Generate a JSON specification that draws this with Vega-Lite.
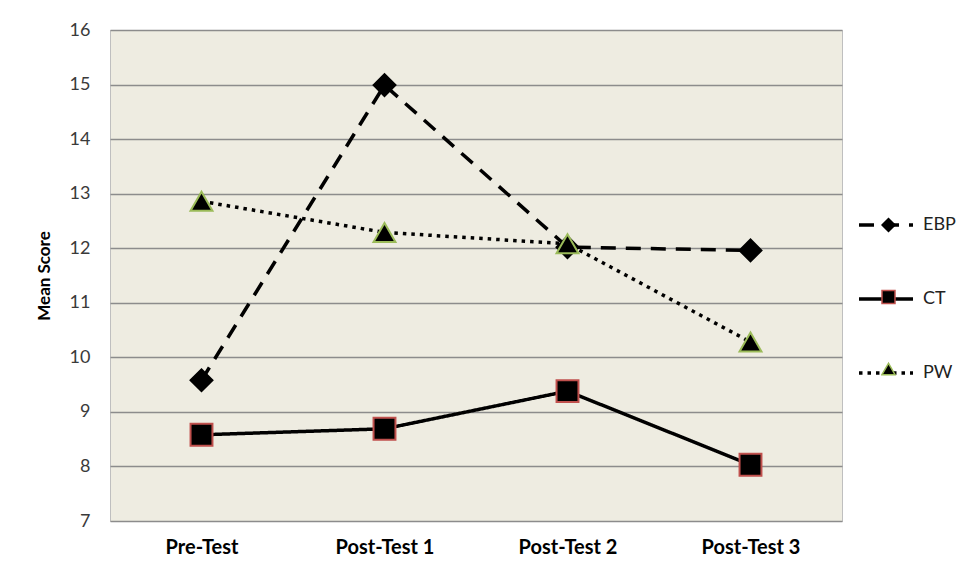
{
  "$schema": "https://vega.github.io/schema/vega-lite/v6.json",
  "width": 732,
  "height": 491,
  "autosize": {"type": "none"},
  "padding": {"left": 110, "top": 30, "right": 137, "bottom": 46},
  "background": "white",
  "config": {
    "font": "Lato",
    "view": {"fill": "#EEECE1", "stroke": "#BFBFBF", "strokeWidth": 1}
  },
  "data": {
    "values": [
      {"test": "Pre-Test", "series": "EBP", "score": 9.58},
      {"test": "Post-Test 1", "series": "EBP", "score": 14.99},
      {"test": "Post-Test 2", "series": "EBP", "score": 12.02},
      {"test": "Post-Test 3", "series": "EBP", "score": 11.96},
      {"test": "Pre-Test", "series": "CT", "score": 8.58},
      {"test": "Post-Test 1", "series": "CT", "score": 8.69},
      {"test": "Post-Test 2", "series": "CT", "score": 9.38},
      {"test": "Post-Test 3", "series": "CT", "score": 8.03},
      {"test": "Pre-Test", "series": "PW", "score": 12.86},
      {"test": "Post-Test 1", "series": "PW", "score": 12.29},
      {"test": "Post-Test 2", "series": "PW", "score": 12.08},
      {"test": "Post-Test 3", "series": "PW", "score": 10.28}
    ]
  },
  "encoding": {
    "x": {
      "field": "test",
      "type": "nominal",
      "sort": ["Pre-Test", "Post-Test 1", "Post-Test 2", "Post-Test 3"],
      "scale": {"type": "point", "padding": 0.5},
      "axis": {
        "title": null,
        "labelAngle": 0,
        "domain": false,
        "ticks": false,
        "labelPadding": 16,
        "labelFont": "Lato",
        "labelFontSize": 20,
        "labelFontWeight": "bold",
        "labelColor": "#000000"
      }
    },
    "y": {
      "field": "score",
      "type": "quantitative",
      "scale": {"domain": [7, 16], "nice": false, "zero": false},
      "axis": {
        "title": "Mean Score",
        "titleFont": "Lato",
        "titleFontSize": 17,
        "titleFontWeight": "bold",
        "titleColor": "#000000",
        "titlePadding": 16,
        "values": [7, 8, 9, 10, 11, 12, 13, 14, 15, 16],
        "domain": false,
        "ticks": false,
        "labelPadding": 20,
        "labelFont": "Lato",
        "labelFontSize": 18,
        "labelColor": "#3a3a3a",
        "grid": true,
        "gridColor": "#8C8C8C",
        "gridWidth": 1.5
      }
    }
  },
  "layer": [
    {
      "mark": {"type": "line", "color": "#000000", "strokeWidth": 3.5, "strokeCap": "butt"},
      "encoding": {
        "strokeDash": {
          "field": "series",
          "type": "nominal",
          "scale": {"domain": ["EBP", "CT", "PW"], "range": [[15, 10], [1, 0], [3.5, 5]]},
          "legend": {
            "orient": "none",
            "legendX": 747,
            "legendY": 187,
            "direction": "vertical",
            "title": null,
            "padding": 0,
            "symbolType": "stroke",
            "symbolSize": 2916,
            "symbolStrokeWidth": 3.5,
            "symbolStrokeColor": "#000000",
            "clipHeight": 16,
            "rowPadding": 56,
            "labelOffset": 8,
            "labelFont": "Lato",
            "labelFontSize": 18,
            "labelColor": "#222222"
          }
        }
      }
    },
    {
      "mark": {"type": "point", "filled": true, "fill": "#000000", "size": 480, "strokeWidth": 2, "opacity": 1, "fillOpacity": 1, "strokeOpacity": 1},
      "encoding": {
        "shape": {
          "field": "series",
          "type": "nominal",
          "scale": {"domain": ["PW", "CT", "EBP"], "range": ["triangle-up", "square", "diamond"]},
          "legend": {
            "orient": "none",
            "legendX": 771,
            "legendY": 187,
            "direction": "vertical",
            "title": null,
            "padding": 0,
            "values": ["EBP", "CT", "PW"],
            "symbolSize": 169,
            "symbolFillColor": "#000000",
            "symbolStrokeWidth": 1.5,
            "clipHeight": 16,
            "rowPadding": 56,
            "labelOpacity": 0
          }
        },
        "stroke": {
          "field": "series",
          "type": "nominal",
          "scale": {"domain": ["PW", "CT", "EBP"], "range": ["#9BBB59", "#C0504D", "#000000"]},
          "legend": {
            "orient": "none",
            "legendX": 771,
            "legendY": 187,
            "direction": "vertical",
            "title": null,
            "padding": 0,
            "values": ["EBP", "CT", "PW"],
            "symbolSize": 169,
            "clipHeight": 16,
            "rowPadding": 56,
            "labelOpacity": 0
          }
        }
      }
    }
  ]
}
